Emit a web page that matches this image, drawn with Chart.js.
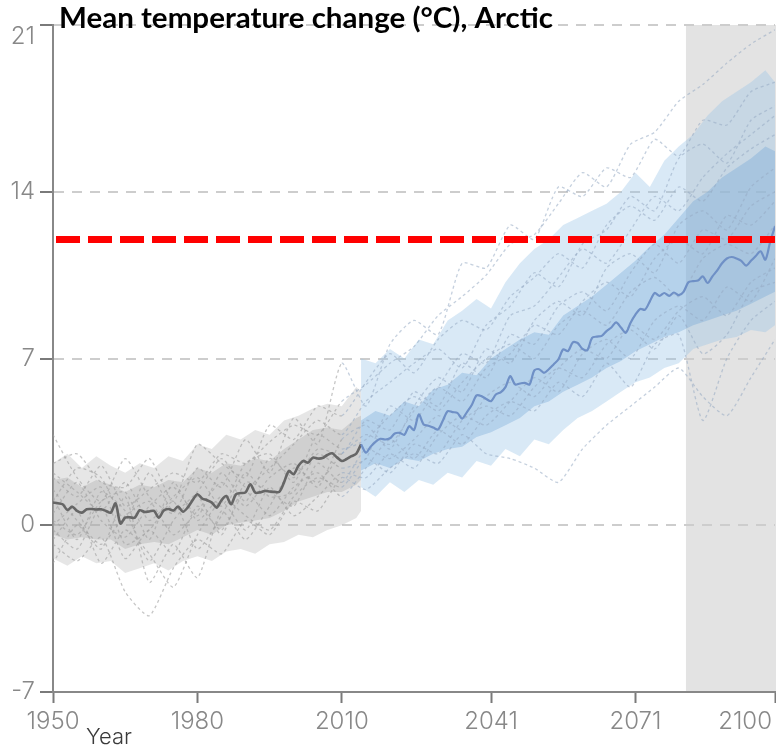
<!DOCTYPE html>
<html>
<head>
<meta charset="utf-8">
<script src="https://cdn.jsdelivr.net/npm/chart.js@4.4.1/dist/chart.umd.min.js"></script>
<style>
  html, body { margin: 0; padding: 0; background: #fff; }
  #wrap { position: relative; width: 776px; height: 752px; }
</style>
</head>
<body>
<div id="wrap"><canvas id="c" width="776" height="752"></canvas></div>
<script>
// ---- text ----
const TITLE = 'Mean temperature change (°C), Arctic';
const X_TITLE = 'Year';

// ---- axes ----
const X_TICKS = [1950, 1980, 2010, 2041, 2071, 2100];
const Y_TICKS = [-7, 0, 7, 14, 21];
const THRESHOLD = 12;          // warming threshold (°C)
const SHADE_FROM = 2081.5;     // end-of-century window
const HIST_START = 1950;       // first year of historical median
const FUT_START = 2014;        // first year of projected median

// ---- ensemble median, historical (1950-2014) ----
const histMedian = [
  0.95,0.92,0.88,0.64,0.78,0.60,0.53,0.67,0.68,0.66,
  0.67,0.60,0.53,0.92,0.07,0.32,0.33,0.32,0.63,0.56,
  0.58,0.60,0.32,0.62,0.68,0.62,0.78,0.57,0.75,1.05,
  1.30,1.12,1.05,0.95,0.74,1.05,1.23,0.88,1.30,1.35,
  1.38,1.72,1.37,1.38,1.44,1.42,1.40,1.40,1.80,2.28,
  2.14,2.50,2.70,2.63,2.84,2.80,2.82,2.95,3.02,2.85,
  2.70,2.78,2.90,3.00,3.40
];

// ---- ensemble median, projection (2014-2100) ----
const futMedian = [
  3.40,
  3.05,3.30,3.50,3.63,3.60,
  3.65,3.85,3.88,3.80,4.16,4.00,4.65,4.23,4.18,4.10,
  4.02,4.40,4.79,4.75,4.72,4.48,4.75,5.05,5.45,5.42,
  5.30,5.21,5.49,5.58,5.80,6.26,5.91,5.95,5.98,5.91,
  6.50,6.55,6.40,6.55,6.75,6.96,7.38,7.31,7.68,7.65,
  7.40,7.35,7.87,7.92,7.95,8.15,8.30,8.52,8.30,8.08,
  8.50,8.84,9.08,9.05,9.40,9.75,9.63,9.75,9.63,9.77,
  9.66,9.80,10.20,10.25,10.27,10.45,10.17,10.45,10.70,11.00,
  11.20,11.26,11.20,11.10,10.90,11.10,11.30,11.50,11.15,11.90,
  12.55
];

// ---- historical spread ----
const histBandYears = [1950,1953,1956,1959,1962,1965,1968,1971,1974,1977,1980,1983,1986,1989,1992,1995,1998,2001,2004,2007,2010,2013,2014];
const histOuterHi = [2.6,3.0,2.4,2.9,2.5,2.2,2.6,2.4,2.9,2.7,3.4,3.2,3.8,3.6,4.0,3.8,4.4,4.6,4.9,5.1,5.0,5.8,5.6];
const histOuterLo = [-1.4,-1.7,-1.3,-1.6,-1.5,-2.0,-1.8,-1.6,-1.9,-1.5,-1.3,-1.5,-1.1,-1.0,-1.2,-0.8,-0.7,-0.4,-0.5,-0.2,0.0,0.3,0.6];
const histInnerHi = [1.9,2.0,1.6,1.9,1.7,1.4,1.7,1.6,1.9,1.8,2.4,2.2,2.6,2.5,2.8,2.7,3.2,3.6,4.0,4.1,4.0,4.5,4.6];
const histInnerLo = [-0.4,-0.6,-0.5,-0.6,-0.6,-1.0,-0.8,-0.7,-0.8,-0.5,-0.2,-0.4,0.0,0.1,0.2,0.3,0.6,1.0,1.2,1.4,1.4,1.7,1.9];

// ---- projected spread ----
const futBandYears = [2014,2017,2020,2023,2026,2029,2032,2035,2038,2041,2044,2047,2050,2053,2056,2059,2062,2065,2068,2071,2074,2077,2080,2083,2086,2089,2092,2095,2098,2100];
const futOuterHi = [7.0,6.8,7.4,7.0,7.8,7.6,8.6,9.0,9.5,9.1,10.2,11.0,11.6,12.0,12.6,12.9,13.2,13.5,14.0,14.8,14.2,15.3,15.9,16.4,17.2,17.8,18.2,18.6,19.1,18.6];
const futOuterLo = [1.6,1.2,1.8,1.4,1.9,1.7,2.2,2.0,2.7,2.5,3.2,2.9,3.6,3.4,4.0,4.5,4.8,5.2,5.6,6.0,6.2,6.6,6.8,7.4,7.6,7.8,7.9,8.2,8.1,8.4];
const futInnerHi = [4.4,4.8,4.6,5.2,5.0,5.7,5.9,6.4,6.3,7.0,7.4,7.8,8.1,8.0,8.8,9.2,9.6,10.1,10.6,11.1,11.7,12.2,12.9,13.6,14.0,14.6,15.0,15.4,15.9,15.7];
const futInnerLo = [2.3,2.6,2.4,2.8,2.7,3.0,3.2,3.3,3.7,3.9,4.2,4.5,5.0,5.2,5.6,5.9,6.2,6.6,6.9,7.3,7.6,7.9,8.1,8.4,8.6,8.8,9.0,9.3,9.6,9.8];

// ---- individual ensemble members ----
const memberYears = [1950,1955,1960,1965,1970,1975,1980,1985,1990,1995,2000,2005,2010,2015,2020,2025,2030,2035,2040,2045,2050,2055,2060,2065,2070,2075,2080,2085,2090,2095,2100];
const member1  = [2.0,1.2,2.5,0.8,1.5,2.2,1.8,3.0,2.6,3.5,4.2,3.8,5.2,5.9,6.8,7.5,8.8,9.6,10.5,11.8,12.2,13.5,14.8,14.2,16.0,16.5,17.8,18.5,19.4,20.2,20.8];
const member2  = [3.8,2.0,1.0,2.8,1.2,0.5,2.4,1.6,3.6,2.2,4.5,3.4,6.8,5.0,7.6,8.6,8.0,11.0,10.8,12.6,12.0,14.2,13.8,15.0,14.6,16.2,15.5,17.0,16.8,18.2,18.6];
const member3  = [-0.8,-1.5,-0.5,-2.8,-3.8,-1.8,-0.6,-1.2,0.2,-0.4,1.0,0.6,2.0,1.5,2.4,3.0,2.6,3.8,3.0,2.8,2.4,1.8,3.2,4.2,5.0,5.8,6.6,5.4,4.6,6.2,7.8];
const member4  = [0.5,1.8,0.2,-0.5,0.8,1.6,0.4,2.2,1.0,2.8,2.0,3.2,3.0,4.4,4.0,5.6,5.0,6.8,6.2,8.0,7.6,9.2,9.8,9.0,10.6,11.8,11.0,12.4,12.0,13.4,14.0];
const member5  = [1.2,-0.6,1.4,0.6,-1.5,0.2,1.2,-0.4,1.8,1.4,0.8,2.6,1.8,3.2,2.8,3.6,4.6,4.0,5.4,6.0,5.4,6.6,7.4,7.0,8.4,7.8,9.0,9.6,8.8,10.2,10.8];
const member6  = [-1.6,0.0,-1.0,1.2,-2.4,-0.8,-2.2,0.6,-0.6,0.8,2.4,1.8,3.0,3.8,3.4,4.8,5.8,5.2,6.6,7.2,8.4,8.0,9.4,10.2,9.6,11.2,12.0,11.4,13.0,12.6,13.6];
const member7  = [2.6,3.0,1.8,1.6,2.8,1.0,3.4,2.6,2.0,4.2,3.6,5.0,4.6,6.0,7.2,6.4,7.8,8.6,8.2,9.6,10.4,11.4,10.8,12.6,13.4,12.8,14.2,13.6,15.0,15.8,16.4];
const member8  = [-0.2,-1.0,0.8,-1.4,-0.2,-1.2,0.8,-0.2,1.4,0.4,1.6,2.2,1.2,2.4,3.6,2.8,4.0,3.4,4.6,5.2,4.8,6.0,5.4,6.8,5.8,7.6,8.0,4.4,7.0,8.6,9.4];
const member9  = [1.5,0.2,-0.8,0.4,1.0,-0.4,0.6,1.8,0.8,2.0,2.6,1.6,3.6,4.2,3.2,5.0,6.2,5.6,7.4,6.8,8.6,9.4,8.8,10.8,11.4,10.6,12.6,13.2,12.4,14.2,15.0];
const member10 = [0.0,0.9,1.6,-0.8,-0.2,1.0,-1.0,0.4,2.2,1.2,1.4,3.0,2.4,2.8,5.0,4.4,5.8,7.2,6.8,8.8,9.2,10.4,11.6,11.0,12.4,13.8,13.2,14.6,15.6,16.4,17.2];
const member11 = [2.2,1.4,0.6,1.8,0.2,1.2,2.0,0.8,2.6,3.0,1.8,3.8,3.2,3.6,4.6,5.4,4.8,6.0,7.0,7.6,7.0,8.4,9.0,8.4,9.8,10.4,9.6,11.2,11.8,11.4,12.6];
const member12 = [-0.6,0.6,-1.6,-0.2,-1.2,-2.6,-0.4,1.0,-0.2,1.6,0.4,1.2,2.2,2.0,3.0,2.4,3.8,4.6,4.2,5.2,6.2,5.6,7.2,7.8,7.0,8.6,9.2,8.6,10.0,9.4,11.2];
const member13 = [1.0,2.4,2.0,0.2,2.2,0.6,1.4,2.8,1.6,2.4,3.4,4.4,3.8,5.2,6.0,6.8,7.4,6.6,8.4,9.2,10.6,10.0,11.8,12.4,13.8,13.2,15.4,16.0,15.2,17.0,17.6];
const member14 = [0.2,-0.4,1.0,1.4,-0.6,1.8,0.2,1.2,0.4,-0.2,1.2,2.0,1.6,2.8,2.2,3.4,3.0,4.4,5.0,4.6,5.8,6.6,6.2,7.6,8.2,7.4,8.8,7.2,8.0,9.8,10.2];
const members = [member1, member2, member3, member4, member5, member6, member7,
                 member8, member9, member10, member11, member12, member13, member14];

// ---- helpers ----
const pts = (years, vals) => vals.map((v, i) => ({ x: years[i], y: v }));
const series = (start, vals) => vals.map((v, i) => ({ x: start + i, y: v }));

const band = (label, years, vals, color, fill) => ({
  label, data: pts(years, vals), borderWidth: 0, pointRadius: 0,
  backgroundColor: color, fill, tension: 0
});

const datasets = [
  {
    label: 'threshold',
    data: [{ x: 1950, y: THRESHOLD }, { x: 2100, y: THRESHOLD }],
    borderColor: '#ff0000', borderWidth: 7, borderDash: [24, 8], borderDashOffset: 29,
    borderCapStyle: 'butt', pointRadius: 0, fill: false
  },
  {
    label: 'projection median', data: series(FUT_START, futMedian),
    borderColor: '#6f90c6', borderWidth: 2.2, pointRadius: 0, fill: false, tension: 0.3
  },
  {
    label: 'historical median', data: series(HIST_START, histMedian),
    borderColor: '#666666', borderWidth: 2.6, pointRadius: 0, fill: false, tension: 0.3
  }
];

members.forEach((m, i) => datasets.push({
  label: 'member ' + (i + 1), data: pts(memberYears, m),
  borderWidth: 1.3, borderDash: [3, 3], pointRadius: 0, fill: false, tension: 0.2,
  borderColor: 'rgba(165,172,185,0.6)',
  segment: {
    borderColor: c => c.p0.parsed.x >= 2010 ? 'rgba(150,170,195,0.55)' : 'rgba(160,160,160,0.6)'
  }
}));

datasets.push(
  band('proj inner hi', futBandYears, futInnerHi, 'rgba(105,160,212,0.33)', '+1'),
  band('proj inner lo', futBandYears, futInnerLo, 'rgba(0,0,0,0)', false),
  band('proj outer hi', futBandYears, futOuterHi, 'rgba(150,195,230,0.36)', '+1'),
  band('proj outer lo', futBandYears, futOuterLo, 'rgba(0,0,0,0)', false),
  band('hist inner hi', histBandYears, histInnerHi, 'rgba(150,150,150,0.28)', '+1'),
  band('hist inner lo', histBandYears, histInnerLo, 'rgba(0,0,0,0)', false),
  band('hist outer hi', histBandYears, histOuterHi, 'rgba(185,185,185,0.36)', '+1'),
  band('hist outer lo', histBandYears, histOuterLo, 'rgba(0,0,0,0)', false)
);

// shading, tick labels and titles
const decor = {
  id: 'decor',
  beforeDraw(chart) {
    const { ctx, chartArea: a, scales: { x } } = chart;
    const x0 = x.getPixelForValue(SHADE_FROM);
    ctx.save();
    ctx.fillStyle = '#e3e3e3';
    ctx.fillRect(x0, a.top, a.right + 1 - x0, a.bottom - a.top);
    ctx.restore();
  },
  afterDraw(chart) {
    const { ctx, chartArea: a, scales: { x, y }, width } = chart;
    ctx.save();
    ctx.fillStyle = '#888888';
    ctx.font = '300 24px Inter, "Open Sans", sans-serif';
    // y tick labels
    ctx.textAlign = 'right';
    ctx.textBaseline = 'middle';
    y.ticks.forEach(t => {
      const py = Math.max(y.getPixelForValue(t.value), a.top + 12);
      ctx.fillText(String(t.value), a.left - 18, py);
    });
    // x tick labels
    ctx.textAlign = 'left';
    ctx.textBaseline = 'alphabetic';
    x.ticks.forEach(t => {
      const s = String(t.value);
      const w = ctx.measureText(s).width;
      let lx = x.getPixelForValue(t.value) - w / 2;
      lx = Math.min(Math.max(lx, 0), width - 4 - w);
      ctx.fillText(s, lx, 729);
    });
    // axis title
    ctx.fillStyle = '#3a3a3a';
    ctx.font = '300 22px Inter, "Open Sans", sans-serif';
    ctx.fillText(X_TITLE, 86, 744);
    // chart title
    ctx.fillStyle = '#000';
    ctx.font = 'bold 28px Lato, "Open Sans", sans-serif';
    const tw = ctx.measureText(TITLE).width;
    ctx.translate(59, 28);
    ctx.scale(494 / tw, 1);
    ctx.fillText(TITLE, 0, 0);
    ctx.restore();
  }
};

new Chart(document.getElementById('c'), {
  type: 'line',
  data: { datasets },
  options: {
    responsive: false,
    animation: false,
    devicePixelRatio: 1,
    layout: { padding: { top: 25, right: 1, left: 0, bottom: 0 } },
    plugins: { legend: { display: false }, tooltip: { enabled: false }, title: { display: false } },
    elements: { line: { borderJoinStyle: 'round' } },
    scales: {
      x: {
        type: 'linear', min: 1950, max: 2100,
        afterBuildTicks: s => { s.ticks = X_TICKS.map(v => ({ value: v })); },
        afterFit: s => { s.height = 60; },
        ticks: { display: false },
        grid: { drawOnChartArea: false, drawTicks: true, tickLength: 11, tickColor: '#7a7a7a', tickWidth: 2 },
        border: { display: true, color: '#888', width: 2 }
      },
      y: {
        type: 'linear', min: -7, max: 21,
        afterBuildTicks: s => { s.ticks = Y_TICKS.map(v => ({ value: v })); },
        afterFit: s => { s.width = 53; },
        ticks: { display: false },
        grid: {
          color: c => (c.tick && c.tick.value === -7) ? 'rgba(0,0,0,0)' : '#cdcdcd',
          lineWidth: 2, drawTicks: true, tickLength: 13, tickColor: '#7a7a7a', tickWidth: 2, tickBorderDash: []
        },
        border: { display: true, color: '#888', width: 2, dash: [10, 8] }
      }
    }
  },
  plugins: [decor]
});
</script>
</body>
</html>
